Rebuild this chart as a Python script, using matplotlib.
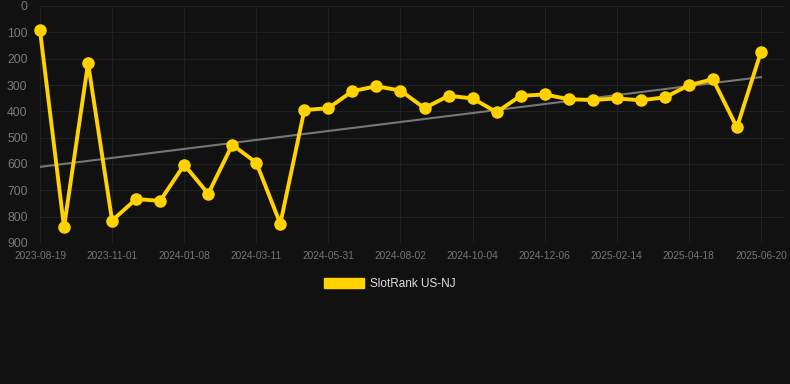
import numpy as np
import matplotlib.pyplot as plt
from matplotlib.patches import Patch

# rank per snapshot (31 evenly spaced snapshots, every 3rd labelled)
ranks = [93, 840, 217, 815, 733, 740, 603, 713, 527, 595, 827,
         395, 388, 323, 305, 321, 388, 341, 351, 403, 341,
         336, 354, 357, 351, 358, 347, 301, 278, 461, 174]
tick_labels = ["2023-08-19", "2023-11-01", "2024-01-08", "2024-03-11",
               "2024-05-31", "2024-08-02", "2024-10-04", "2024-12-06",
               "2025-02-14", "2025-04-18", "2025-06-20"]
trend_ends = [611, 270]
series_name = "SlotRank US-NJ"

bg = "#111111"
gold = "#FFD200"

plt.rcParams['font.family'] = ['Liberation Sans', 'DejaVu Sans']
fig = plt.figure(figsize=(7.9, 3.84), dpi=100, facecolor=bg)
ax = fig.add_axes([40/790, 1 - 243/384, 745/790, 237/384])
ax.set_facecolor(bg)

x = np.arange(len(ranks))
ax.plot([x[0], x[-1]], trend_ends, color="#777777", lw=1.5, zorder=2)
ax.plot(x, ranks, color=gold, lw=2.8, marker="o", ms=8, zorder=3, clip_on=False)

ax.set_ylim(900, 0)
ax.set_yticks(range(0, 901, 100))
ax.set_xlim(0, 31)
ax.set_xticks(x[::3])
ax.set_xticklabels(tick_labels)

ax.grid(True, color="#212121", lw=0.8)
ax.set_axisbelow(True)
for s in ax.spines.values():
    s.set_visible(False)
ax.tick_params(axis="y", length=0, pad=9, labelsize=8.8, labelcolor="#7a7a7a")
ax.tick_params(axis="x", length=0, pad=6, labelsize=7.3, labelcolor="#747474")

fig.legend(handles=[Patch(facecolor=gold, edgecolor=gold)], labels=[series_name],
           loc="center", bbox_to_anchor=(390/790, 1 - 284/384), frameon=False,
           handlelength=3.4, handleheight=1.0, handletextpad=0.5,
           fontsize=8.5, labelcolor="#dddddd")

fig.savefig("out.png", dpi=100, facecolor=bg)
